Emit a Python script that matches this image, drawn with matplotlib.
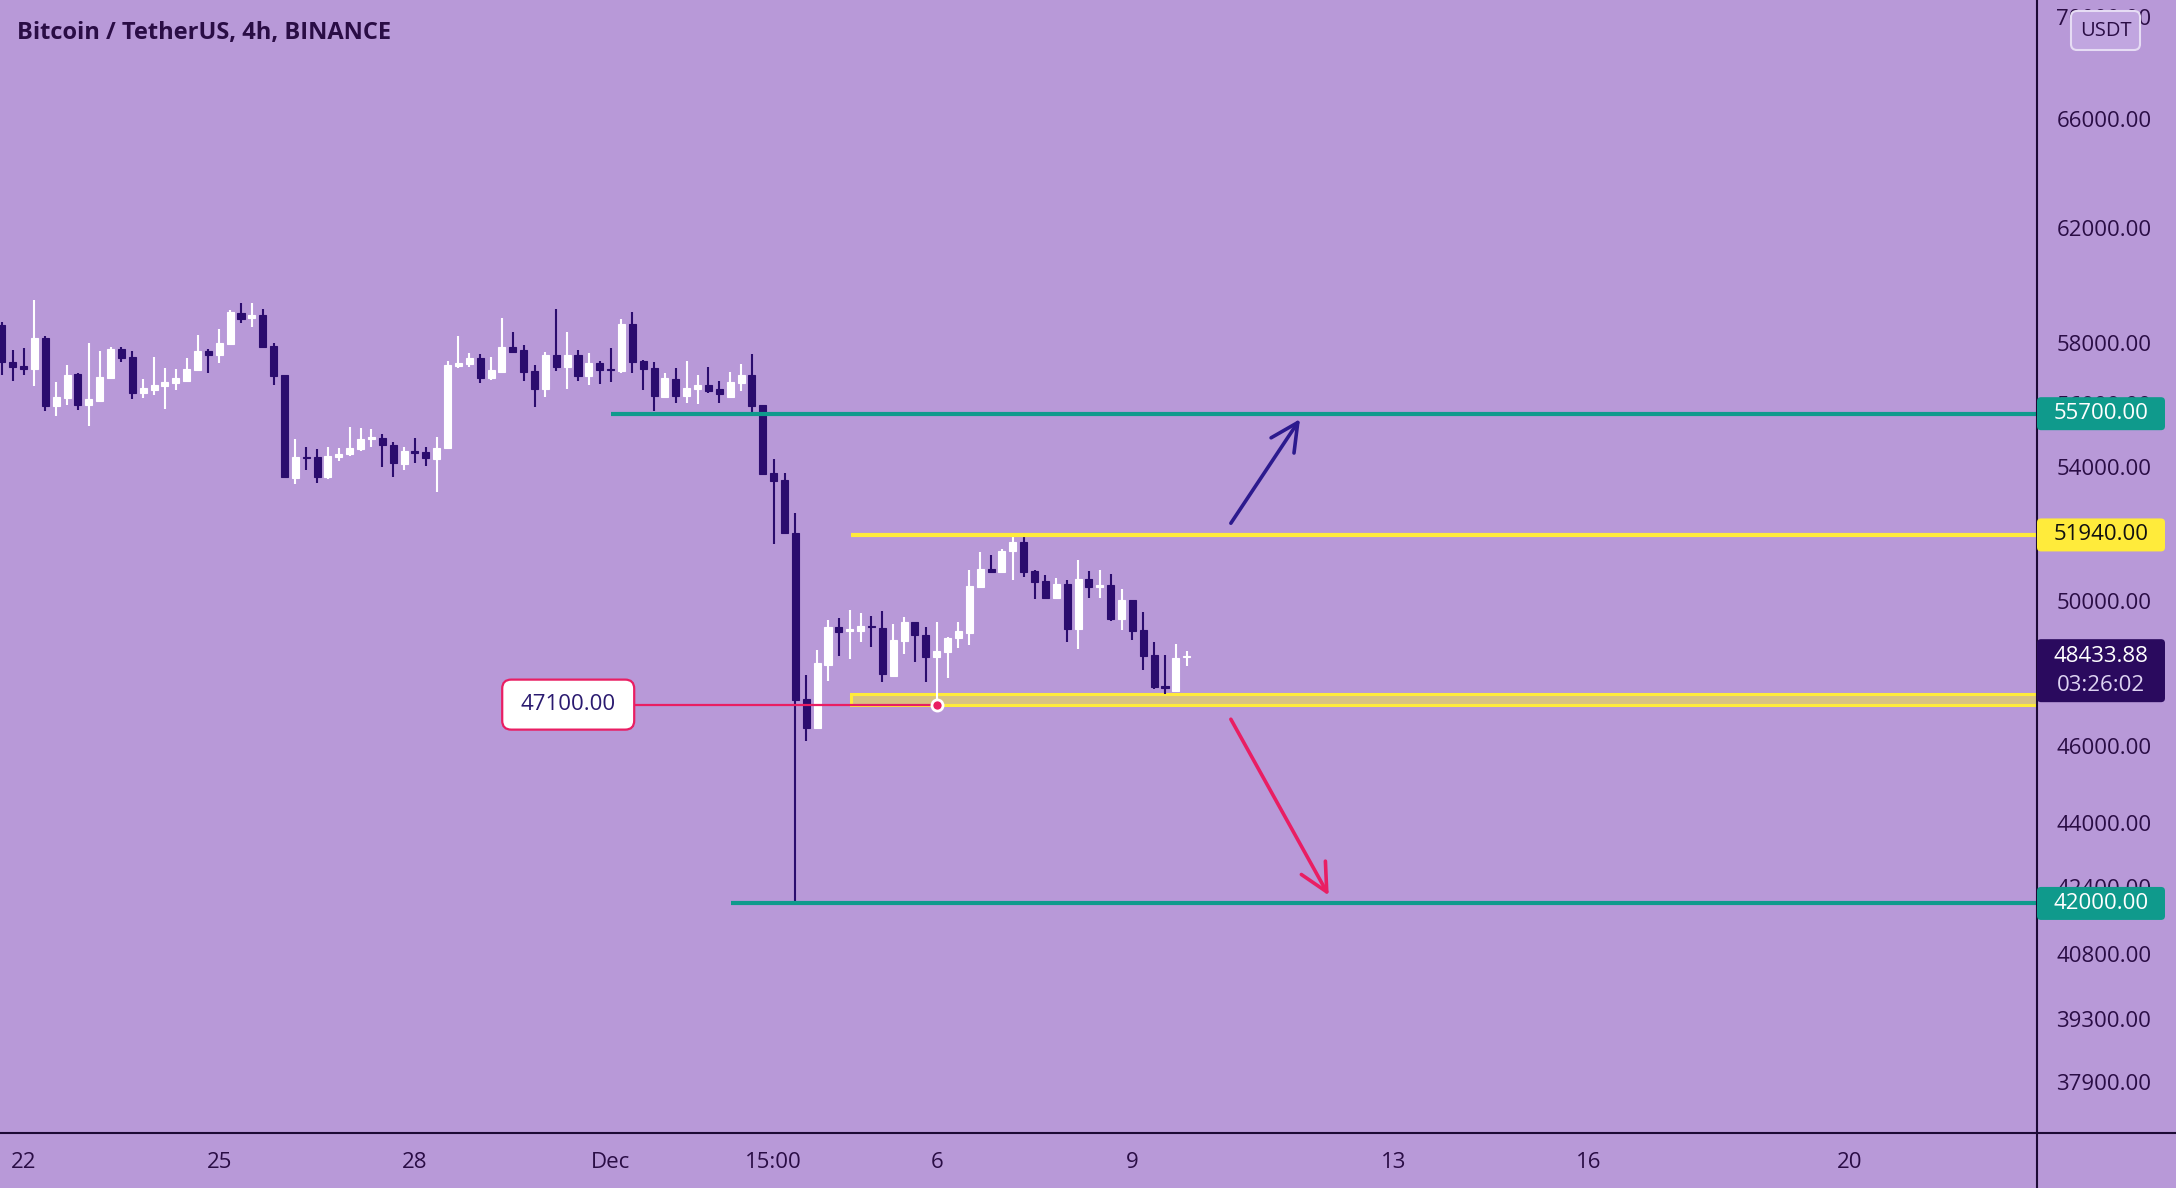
import matplotlib
matplotlib.use('Agg')
import matplotlib.dates as mdates
import matplotlib.pyplot as plt
import numpy as np
import pandas as pd
from matplotlib.lines import Line2D
from matplotlib.patches import FancyBboxPatch, Rectangle
from matplotlib.ticker import NullLocator
from matplotlib.transforms import IdentityTransform

plt.rcParams['font.family'] = ['Open Sans', 'DejaVu Sans']

# 4h candles, BTC/USDT
opens = [58620, 57380, 57250, 57150, 58180, 55944, 56202, 56985, 55976, 56105,
         56853, 57813, 57546, 56364, 56462, 56592, 56690, 56755, 57117, 57747,
         57613, 57980, 59026, 58856, 58958, 57913, 56952, 53668, 54322, 54322,
         53699, 54322, 54416, 54573, 54889, 54921, 54700, 54103, 54510, 54478,
         54259, 54604, 57249, 57315, 57513, 56853, 57051, 57880, 57780, 57084,
         56494, 57613, 57216, 57613, 56919, 57348, 57150, 57084, 58653, 57414,
         57183, 56234, 56821, 56267, 56494, 56625, 56494, 56234, 56690, 56952,
         55976, 53823, 53606, 51992, 47246, 46462, 48181, 49249, 49135, 49135,
         49277, 49220, 47877, 48853, 49391, 49022, 48404, 48544, 48937, 49079,
         50398, 50924, 50836, 51455, 51723, 50865, 50573, 50080, 50485, 49192,
         50631, 50398, 50456, 49476, 50022, 49164, 48460, 47602, 47465, 48404]
highs = [58720, 57780, 57846, 59470, 58247, 56723, 57282, 57018, 58014, 57747,
         57880, 57880, 57747, 56821, 57546, 57183, 57150, 57513, 58282, 57813,
         58484, 59128, 59367, 59367, 59162, 58014, 56952, 54889, 54636, 54573,
         54636, 54604, 55270, 55238, 55206, 55047, 54794, 54636, 54921, 54636,
         54953, 57414, 58247, 57680, 57646, 57546, 58856, 58383, 57947, 57282,
         57713, 59162, 58383, 57780, 57680, 57414, 57846, 58822, 59060, 57447,
         57381, 57018, 57183, 57414, 56952, 57216, 56755, 57051, 57315, 57646,
         55976, 54259, 53823, 52595, 47905, 48600, 49448, 49505, 49734, 49648,
         49562, 49705, 49334, 49533, 49391, 49249, 49391, 48965, 49391, 50895,
         51426, 51337, 51515, 51872, 51872, 50895, 50748, 50661, 50602, 51189,
         50865, 50895, 50778, 50340, 50022, 49677, 48825, 48460, 48768, 48572]
lows = [56950, 56755, 56952, 56592, 55783, 55622, 55976, 55815, 55301, 56073,
        56853, 57381, 56170, 56202, 56300, 55847, 56462, 56723, 57117, 57018,
        57348, 57947, 58687, 58552, 57880, 56625, 53699, 53483, 53916, 53514,
        53637, 54197, 54353, 54510, 54636, 54009, 53699, 53916, 54134, 54040,
        53237, 54604, 57183, 57216, 56690, 56788, 57018, 57680, 56755, 55912,
        56234, 57084, 56494, 56755, 56625, 56657, 56723, 57018, 57018, 56462,
        55783, 56202, 56040, 56040, 56008, 56364, 56040, 56234, 56429, 55751,
        53761, 51664, 51992, 42000, 46116, 46462, 47740, 48432, 48349, 48825,
        48684, 47712, 47877, 48488, 48265, 47712, 47100, 47822, 48656, 48740,
        50369, 50807, 50807, 50602, 50690, 50051, 50080, 50080, 48825, 48628,
        50080, 50080, 49420, 49164, 48881, 48043, 47520, 47383, 47465, 48154]
closes = [57380, 57216, 57150, 58180, 55944, 56234, 56952, 55976, 56170, 56886,
          57813, 57513, 56364, 56527, 56625, 56723, 56853, 57150, 57747, 57613,
          58014, 59060, 58822, 58958, 57880, 56919, 53699, 54322, 54290, 53699,
          54353, 54416, 54604, 54889, 54953, 54700, 54134, 54510, 54447, 54290,
          54604, 57282, 57348, 57513, 56853, 57117, 57880, 57713, 57051, 56494,
          57613, 57216, 57613, 56919, 57348, 57117, 57117, 58653, 57381, 57150,
          56267, 56853, 56267, 56527, 56625, 56429, 56332, 56723, 56952, 55944,
          53792, 53575, 51992, 47219, 46462, 48237, 49249, 49107, 49192, 49277,
          49249, 47932, 48881, 49391, 49022, 48404, 48572, 48937, 49135, 50427,
          50924, 50836, 51455, 51723, 50836, 50544, 50080, 50485, 49192, 50631,
          50398, 50456, 49476, 50022, 49135, 48432, 47575, 47547, 48376, 48433.88]

price_ticks = [70000, 66000, 62000, 58000, 56000, 54000, 50000,
               46000, 44000, 42400, 40800, 39300, 37900]
date_ticks = ['2021-11-22 00:00', '2021-11-25 00:00', '2021-11-28 00:00', '2021-12-01 00:00',
              '2021-12-03 12:00', '2021-12-06 00:00', '2021-12-09 00:00', '2021-12-13 00:00',
              '2021-12-16 00:00', '2021-12-20 00:00']
date_labels = ['22', '25', '28', 'Dec', '15:00', '6', '9', '13', '16', '20']

resistance = 55700
support = 42000
range_top = 51940
range_low = 47100
zone_top = 47380
last_price = 48433.88
countdown = '03:26:02'

# colours
BG = '#b899d8'
DOWN = '#2b0c6e'
UP = '#ffffff'
TEAL = '#0f9a8c'
YELLOW = '#ffeb3b'
PINK = '#e91e63'
BLUE = '#2c1a8e'
AXIS = '#1c0a35'
TEXT = '#2a0d45'

W, H = 2176, 1188
AX_RIGHT, AX_BOTTOM = 2037, 55
FS = 16

fig = plt.figure(figsize=(W / 100, H / 100), dpi=100, facecolor=BG)
ax = fig.add_axes([0, AX_BOTTOM / H, AX_RIGHT / W, (H - AX_BOTTOM) / H], facecolor=BG)

o = np.array(opens, dtype=float)
h = np.array(highs, dtype=float)
l = np.array(lows, dtype=float)
c = np.array(closes, dtype=float)
times = pd.date_range('2021-11-21 16:00', periods=len(o), freq='4h')
t = mdates.date2num(times)
cols = np.where(c >= o, UP, DOWN)

ax.vlines(t, l, h, colors=cols, linewidth=1.5, zorder=3)
ax.bar(t, np.abs(c - o), bottom=np.minimum(o, c), width=0.108, color=cols,
       edgecolor=cols, linewidth=0.8, zorder=3)

ax.set_yscale('log')
ax.set_ylim(36794, 70700)
base = mdates.date2num(pd.Timestamp('2021-11-22'))
x_left, x_right = base - 0.362, base + 30.87
ax.set_xlim(x_left, x_right)

ax.yaxis.set_minor_locator(NullLocator())
ax.set_yticks(price_ticks)
ax.set_yticklabels(['%.2f' % v for v in price_ticks])
ax.yaxis.tick_right()
ax.set_xticks(mdates.date2num(pd.to_datetime(date_ticks, format='%Y-%m-%d %H:%M')))
ax.set_xticklabels(date_labels)
ax.tick_params(axis='y', length=0, pad=14, labelsize=FS, labelcolor=TEXT)
ax.tick_params(axis='x', length=0, pad=14, labelsize=FS, labelcolor=TEXT)
for s in ax.spines.values():
    s.set_visible(False)

# levels
ax.plot([base + 9.0, x_right], [resistance] * 2, color=TEAL, lw=3, zorder=4,
        solid_capstyle='butt')
ax.plot([base + 10.85, x_right], [support] * 2, color=TEAL, lw=3, zorder=4,
        solid_capstyle='butt')
ax.plot([base + 12.68, x_right], [range_top] * 2, color=YELLOW, lw=3, zorder=4,
        solid_capstyle='butt')
ax.add_patch(Rectangle((base + 12.68, range_low), x_right - base - 12.68,
                       zone_top - range_low, fc='#d8c283', ec=YELLOW, lw=2.2, zorder=2))

dot_x = t[86]
label_x = base + 8.35
ax.plot([base + 9.36, dot_x], [range_low] * 2, color=PINK, lw=1.6, zorder=4)
ax.plot(dot_x, range_low, 'o', ms=8, mfc=PINK, mec='white', mew=2, zorder=6)

# arrows
ax.annotate('', xy=(base + 19.57, 55525), xytext=(base + 18.51, 52292),
            arrowprops=dict(arrowstyle='->,head_length=0.9,head_width=0.45', color=BLUE,
                            lw=2.6, mutation_scale=22, shrinkA=0, shrinkB=0))
ax.annotate('', xy=(base + 20.01, 42195), xytext=(base + 18.51, 46705),
            arrowprops=dict(arrowstyle='->,head_length=0.9,head_width=0.45', color=PINK,
                            lw=2.6, mutation_scale=22, shrinkA=0, shrinkB=0))

px = IdentityTransform()


def add_box(x0, y0, w, hh, fc, ec='none', lw=0, r=4, z=5):
    fig.add_artist(FancyBboxPatch((x0, y0), w, hh, boxstyle='round,pad=0,rounding_size=%d' % r,
                                  transform=px, fc=fc, ec=ec, lw=lw, zorder=z))


def ypix(p):
    return ax.transData.transform((x_left, p))[1]


# 47100 label
cx, cy = ax.transData.transform((label_x, range_low))
add_box(cx - 66, cy - 25, 132, 50, 'white', PINK, 1.6, r=9)
fig.text(cx, cy, '47100.00', transform=px, ha='center', va='center', fontsize=FS,
         color='#2a1a70', zorder=7)

# right axis price boxes
for p, fc, tc in [(resistance, TEAL, 'white'), (range_top, YELLOW, '#111111'),
                  (support, TEAL, 'white')]:
    yp = ypix(p)
    add_box(AX_RIGHT, yp - 16.5, 128, 33, fc)
    fig.text(AX_RIGHT + 64, yp, '%.2f' % p, transform=px, ha='center', va='center',
             fontsize=FS, color=tc, zorder=7)

yp = ypix(last_price)
add_box(AX_RIGHT, yp - 46, 128, 63, '#2a0a5e')
fig.text(AX_RIGHT + 64, yp, '%.2f' % last_price, transform=px, ha='center', va='center',
         fontsize=FS, color='white', zorder=7)
fig.text(AX_RIGHT + 64, yp - 29, countdown, transform=px, ha='center', va='center',
         fontsize=FS, color='#ddd3f2', zorder=7)

# currency badge
add_box(2071, H - 50, 69, 39, '#c1a6e0', '#e6dcf4', 1.5, r=6)
fig.text(2105.5, H - 30.5, 'USDT', transform=px, ha='center', va='center', fontsize=14.5,
         color=TEXT, zorder=7)

# axis lines
fig.add_artist(Line2D([AX_RIGHT / W] * 2, [0, 1], transform=fig.transFigure, color=AXIS, lw=1.5))
fig.add_artist(Line2D([0, 1], [AX_BOTTOM / H] * 2, transform=fig.transFigure, color=AXIS, lw=1.5))

fig.text(17, H - 33, 'Bitcoin / TetherUS, 4h, BINANCE', transform=px, ha='left', va='center',
         fontsize=17, fontweight='bold', color=TEXT)

fig.savefig('out.png', dpi=100, facecolor=BG)
